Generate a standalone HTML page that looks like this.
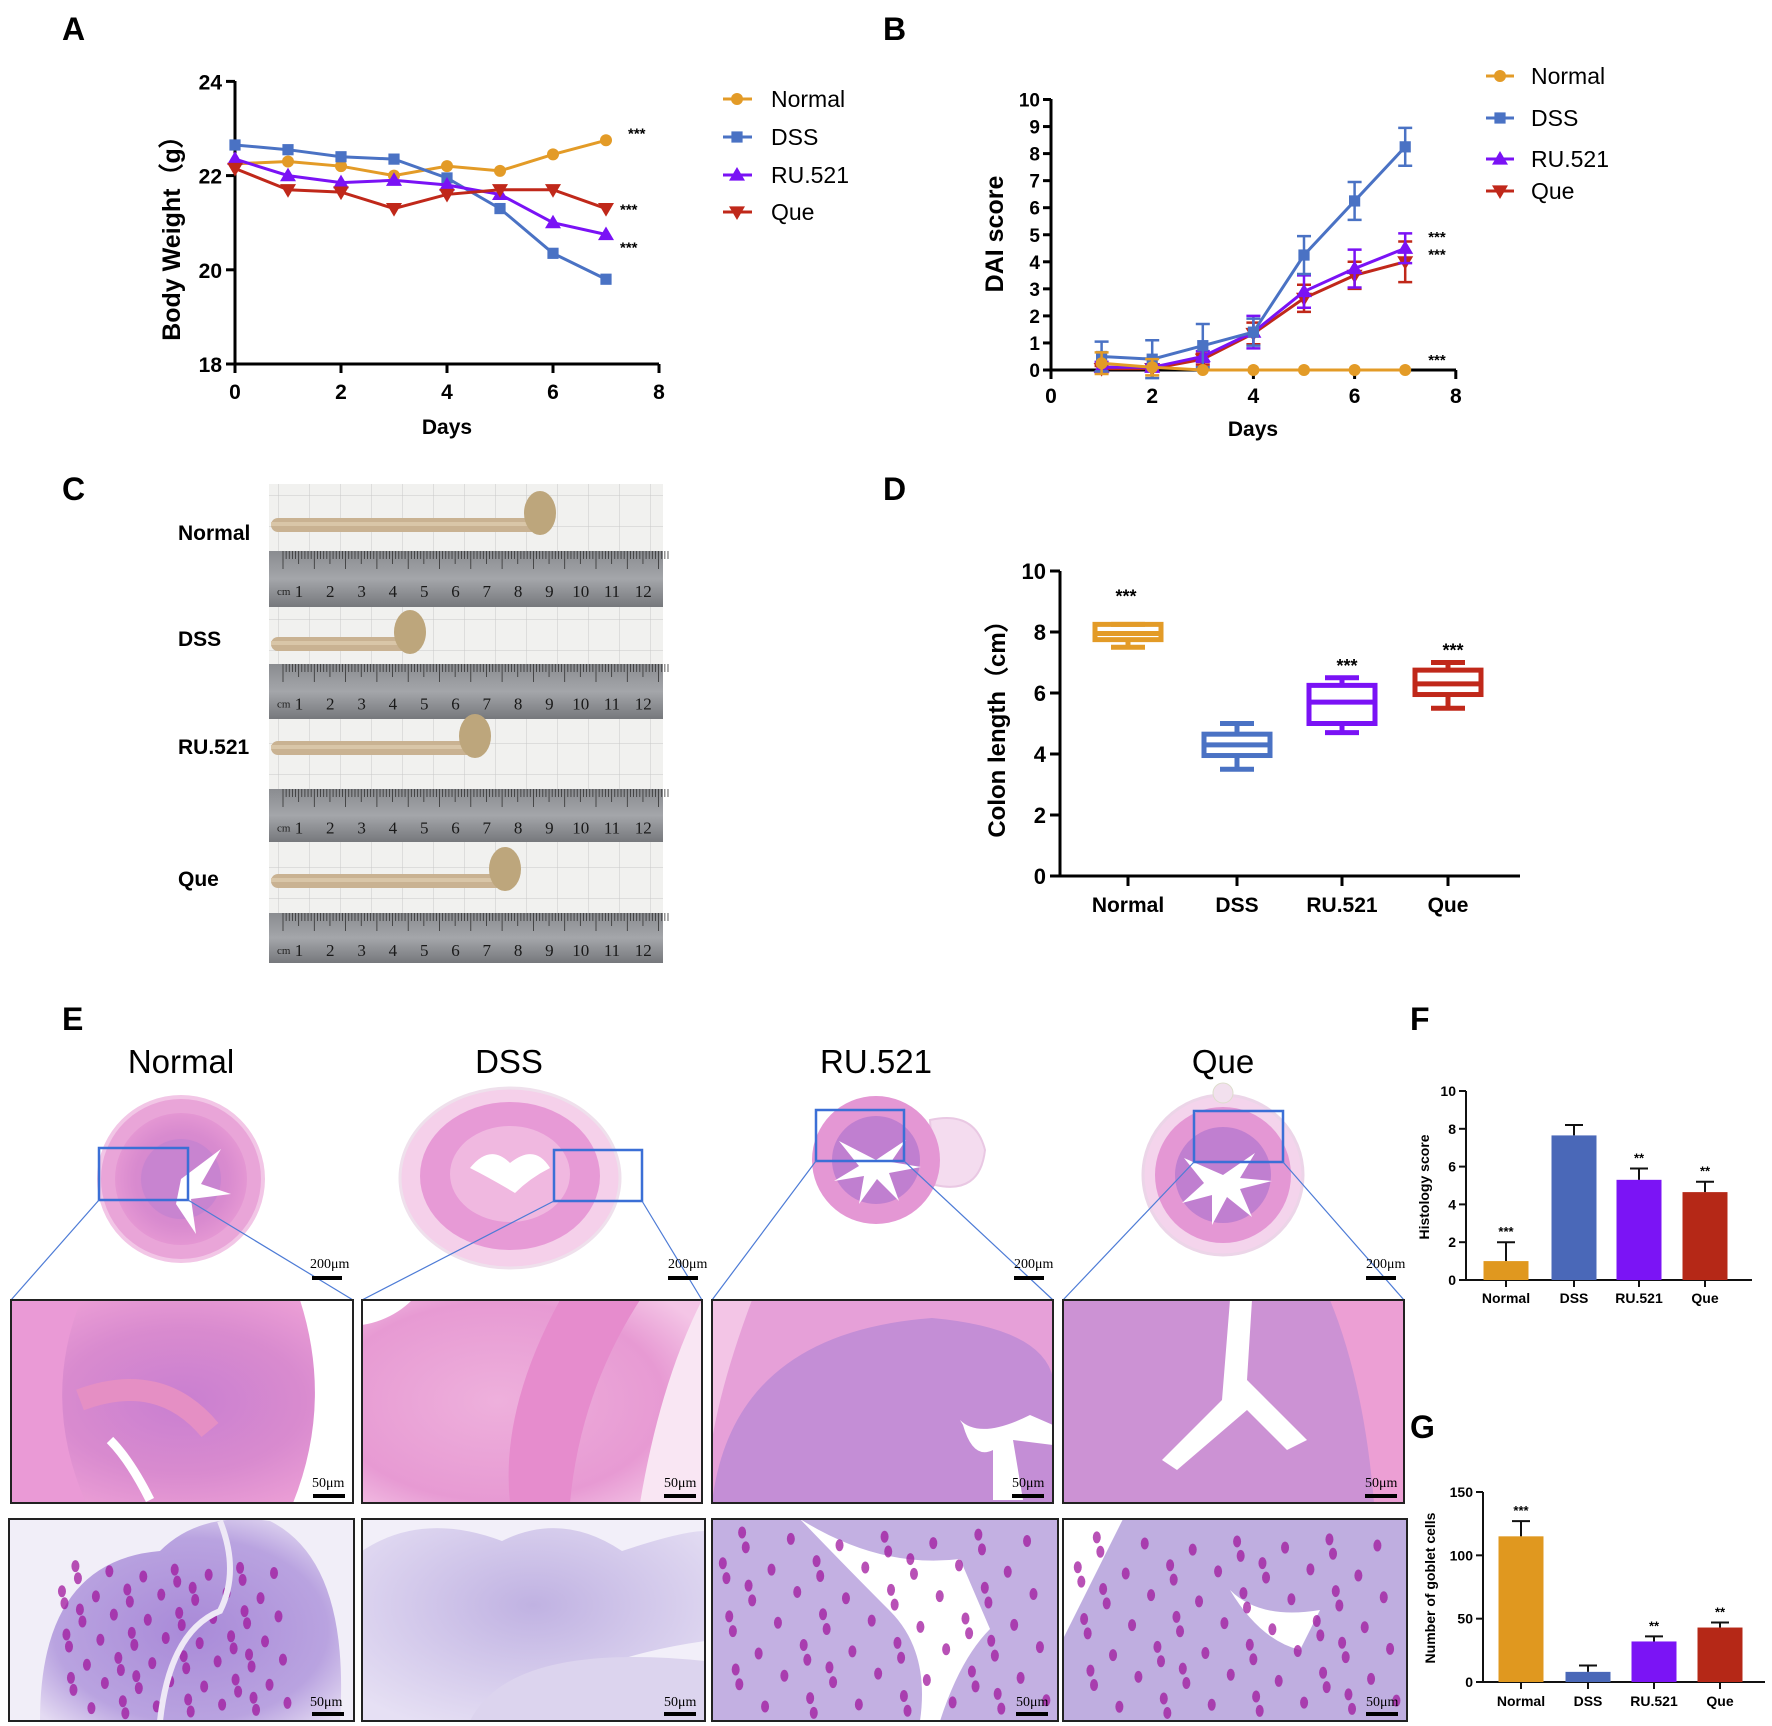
<!DOCTYPE html>
<html><head><meta charset="utf-8"><style>
html,body{margin:0;padding:0;background:#fff;}
svg{display:block;font-family:"Liberation Sans",Arial,sans-serif;}
.pl{font-weight:bold;font-size:32px;}
.tk{font-size:21px;font-weight:bold;}
.lg{font-size:23px;}
.ttl{font-weight:bold;font-size:23px;}
.st{font-size:15px;font-weight:bold;}
.sb{font-family:"Liberation Serif",serif;font-size:14px;}
</style></head><body>
<svg id="fig" width="1772" height="1726" viewBox="0 0 1772 1726" xmlns="http://www.w3.org/2000/svg">
<defs>
<radialGradient id="gPink" cx="50%" cy="50%" r="60%"><stop offset="0" stop-color="#c97fd0"/><stop offset="0.6" stop-color="#d98bcf"/><stop offset="1" stop-color="#ec9fd6"/></radialGradient>
<radialGradient id="gPink2" cx="40%" cy="50%" r="70%"><stop offset="0" stop-color="#eeb0dc"/><stop offset="0.7" stop-color="#e79ad3"/><stop offset="1" stop-color="#f4c5e6"/></radialGradient>
<radialGradient id="gLav" cx="50%" cy="55%" r="65%"><stop offset="0" stop-color="#a98ad8"/><stop offset="0.7" stop-color="#b9a3e0"/><stop offset="1" stop-color="#e4dbf2"/></radialGradient>
<radialGradient id="gLav2" cx="50%" cy="40%" r="70%"><stop offset="0" stop-color="#c0b2e2"/><stop offset="1" stop-color="#e6e0f4"/></radialGradient>
<linearGradient id="gRuler" x1="0" y1="0" x2="0" y2="1"><stop offset="0" stop-color="#8a8c90"/><stop offset="0.5" stop-color="#a4a6aa"/><stop offset="1" stop-color="#76787c"/></linearGradient>
<pattern id="grid" width="31" height="31" patternUnits="userSpaceOnUse"><rect width="31" height="31" fill="#f1f1ef"/><path d="M31 0V31M0 31H31" stroke="#c9c9c9" stroke-width="1"/></pattern>
</defs>

<text class="pl" x="62" y="40">A</text>
<text class="pl" x="883" y="40">B</text>
<text class="pl" x="62" y="500">C</text>
<text class="pl" x="883" y="500">D</text>
<text class="pl" x="62" y="1030">E</text>
<text class="pl" x="1410" y="1030">F</text>
<text class="pl" x="1410" y="1438">G</text>

<g id="pA"></g>
<g id="pB"></g>

<g>
<rect x="269" y="484" width="394" height="479" fill="url(#grid)"/>
<g id="rulers"></g>
<g id="colons"></g>
<text class="ttl" x="178" y="540" style="font-size:21px">Normal</text>
<text class="ttl" x="178" y="646" style="font-size:21px">DSS</text>
<text class="ttl" x="178" y="754" style="font-size:21px">RU.521</text>
<text class="ttl" x="178" y="886" style="font-size:21px">Que</text>
</g>

<g id="pD"></g>

<g id="pE">
<text x="181" y="1073" font-size="33" text-anchor="middle">Normal</text>
<text x="509" y="1073" font-size="33" text-anchor="middle">DSS</text>
<text x="876" y="1073" font-size="33" text-anchor="middle">RU.521</text>
<text x="1223" y="1073" font-size="33" text-anchor="middle">Que</text>

<g>
<circle cx="181" cy="1179" r="82" fill="#e9a5d8" stroke="#f2c6e6" stroke-width="4"/>
<circle cx="181" cy="1179" r="66" fill="url(#gPink)"/>
<circle cx="181" cy="1179" r="40" fill="#c884d0"/>
<path d="M181 1179 l40 -30 l-20 35 l30 10 l-40 5 l5 35 l-20 -30 z" fill="#fff"/>
</g>
<g>
<ellipse cx="510" cy="1178" rx="110" ry="90" fill="#f5d0ea" stroke="#efe0ec" stroke-width="3"/>
<ellipse cx="510" cy="1176" rx="90" ry="74" fill="#e79ad6"/>
<ellipse cx="510" cy="1174" rx="60" ry="48" fill="#f0b8e0"/>
<path d="M470 1168 q20 -25 40 -5 q25 -20 40 5 q-20 10 -35 25 q-25 -15 -45 -25z" fill="#fff"/>
</g>
<g>
<path d="M930 1120 q45 -10 55 30 q-5 45 -50 35 z" fill="#f4dcef" stroke="#e9c8e3" stroke-width="2"/>
<circle cx="876" cy="1160" r="64" fill="#e497d4"/>
<circle cx="876" cy="1160" r="44" fill="#c07fd0"/>
<path d="M876 1160 l30 -20 l-15 22 l30 5 l-32 6 l10 28 l-22 -22 l-18 25 l5 -28 l-30 5 l25 -15 l-20 -25 z" fill="#fff"/>
</g>
<g>
<circle cx="1223" cy="1175" r="80" fill="#f4d4ec" stroke="#ecd5e8" stroke-width="3"/>
<circle cx="1223" cy="1175" r="68" fill="#e497d4"/>
<circle cx="1223" cy="1175" r="48" fill="#c07fd0"/>
<path d="M1223 1175 l32 -22 l-15 25 l32 3 l-32 8 l12 28 l-25 -20 l-15 28 l0 -30 l-30 8 l22 -20 l-20 -25 z" fill="#fff"/>
<circle cx="1223" cy="1093" r="10" fill="#f2e0ee" stroke="#ddc" />
</g>

<g fill="none" stroke="#3b6fd6" stroke-width="2.5">
<rect x="99" y="1148" width="89" height="52"/>
<rect x="554" y="1150" width="88" height="51"/>
<rect x="816" y="1110" width="88" height="51"/>
<rect x="1194" y="1111" width="89" height="51"/>
</g>
<g stroke="#4d7bd6" stroke-width="1.2">
<line x1="99" y1="1200" x2="11" y2="1300"/><line x1="188" y1="1200" x2="353" y2="1300"/>
<line x1="554" y1="1201" x2="362" y2="1300"/><line x1="642" y1="1201" x2="702" y2="1300"/>
<line x1="816" y1="1161" x2="712" y2="1300"/><line x1="904" y1="1161" x2="1053" y2="1300"/>
<line x1="1194" y1="1162" x2="1063" y2="1300"/><line x1="1283" y1="1162" x2="1404" y2="1300"/>
</g>
<g class="sb">
<text x="310" y="1268">200μm</text><rect x="312" y="1276" width="30" height="4"/>
<text x="668" y="1268">200μm</text><rect x="668" y="1276" width="30" height="4"/>
<text x="1014" y="1268">200μm</text><rect x="1014" y="1276" width="30" height="4"/>
<text x="1366" y="1268">200μm</text><rect x="1366" y="1276" width="30" height="4"/>
</g>

<g>
<rect x="11" y="1300" width="342" height="203" fill="url(#gPink)"/>
<path d="M11 1300 h70 q-40 100 5 203 h-75z" fill="#ea9ad6"/>
<path d="M80 1400 q80 -30 130 30" stroke="#e58fc4" stroke-width="22" fill="none"/>
<path d="M300 1300 h53 v203 h-60 q40 -100 7 -203z" fill="#fff"/>
<path d="M110 1440 q20 20 40 60" stroke="#fff" stroke-width="9" fill="none"/>
</g>
<g>
<rect x="362" y="1300" width="340" height="203" fill="url(#gPink2)"/>
<path d="M560 1300 q-60 110 -50 203 h60 q10 -110 70 -203z" fill="#e68ccd"/>
<path d="M362 1300 h50 q-20 20 -50 25z" fill="#fff"/>
<path d="M640 1503 q20 -120 62 -203 v203z" fill="#f9e6f3"/>
</g>
<g>
<rect x="712" y="1300" width="341" height="203" fill="#e6a0d8"/>
<path d="M712 1503 q20 -170 220 -185 q110 10 121 60 v125z" fill="#c48ed6"/>
<path d="M960 1420 q20 20 70 -5 l23 10 v20 l-40 -5 l10 60 h-30 l0 -50 q-20 10 -30 -25z" fill="#fff"/>
<path d="M712 1300 h40 q-30 80 -40 140z" fill="#f3c5e6"/>
</g>
<g>
<rect x="1063" y="1300" width="341" height="203" fill="#cc92d4"/>
<path d="M1330 1300 h74 v203 h-30 q-10 -120 -44 -203z" fill="#ec9fd4"/>
<path d="M1230 1300 h22 l-5 80 l60 60 l-20 10 l-40 -40 l-70 60 l-15 -10 l60 -60 z" fill="#fff"/>
</g>
<g fill="none" stroke="#222" stroke-width="2">
<rect x="11" y="1300" width="342" height="203"/><rect x="362" y="1300" width="340" height="203"/>
<rect x="712" y="1300" width="341" height="203"/><rect x="1063" y="1300" width="341" height="203"/>
</g>

<g>
<rect x="9" y="1519" width="345" height="202" fill="#f1eef8"/>
<path d="M40 1721 q0 -160 120 -170 q40 -40 110 -30 q80 40 70 200z" fill="url(#gLav)"/>
<g id="dots1"></g>
<path d="M160 1721 q10 -90 60 -110 q20 -40 0 -90" stroke="#eee8f6" stroke-width="6" fill="none"/>
</g>
<g>
<rect x="362" y="1519" width="343" height="202" fill="#f2eff9"/>
<path d="M362 1721 v-170 q60 -40 140 -10 q60 -30 120 10 q60 -20 83 -20 v110 q-140 20 -180 80 z" fill="url(#gLav2)"/>
<path d="M470 1721 q40 -80 235 -60 v60z" fill="#dcd4ee"/>
</g>
<g>
<rect x="712" y="1519" width="346" height="202" fill="#c3b0e2"/>
<path d="M800 1519 q80 50 160 40 l30 70 q-30 30 -50 92 h-20 q10 -70 -30 -110 q-40 -40 -90 -92z" fill="#fff"/>
<g id="dots3"></g>
</g>
<g>
<rect x="1063" y="1519" width="344" height="202" fill="#bfaee0"/>
<path d="M1063 1519 h60 q-40 80 -60 120z M1230 1590 q30 30 90 20 l-20 40 q-40 -10 -70 -60z" fill="#fff"/>
<g id="dots4"></g>
</g>
<g fill="none" stroke="#222" stroke-width="2">
<rect x="9" y="1519" width="345" height="202"/><rect x="362" y="1519" width="343" height="202"/>
<rect x="712" y="1519" width="346" height="202"/><rect x="1063" y="1519" width="344" height="202"/>
</g>
<g class="sb">
<text x="312" y="1487">50μm</text><rect x="313" y="1494" width="32" height="4"/>
<text x="664" y="1487">50μm</text><rect x="664" y="1494" width="32" height="4"/>
<text x="1012" y="1487">50μm</text><rect x="1012" y="1494" width="32" height="4"/>
<text x="1365" y="1487">50μm</text><rect x="1365" y="1494" width="32" height="4"/>
<text x="310" y="1706">50μm</text><rect x="312" y="1712" width="32" height="4"/>
<text x="664" y="1706">50μm</text><rect x="664" y="1712" width="32" height="4"/>
<text x="1016" y="1706">50μm</text><rect x="1016" y="1712" width="32" height="4"/>
<text x="1366" y="1706">50μm</text><rect x="1366" y="1712" width="32" height="4"/>
</g>
</g>

<g id="pF"></g>
<g id="pG"></g>
</svg>

<script>
// ---------- data ----------
const groups = ["Normal","DSS","RU.521","Que"];
const colors = ["#E39B27","#4A72C4","#7A12F5","#C0281A"];
const daysA = [0,1,2,3,4,5,6,7];
const weightNormal = [22.25,22.3,22.2,22.0,22.2,22.1,22.45,22.75];
const weightDSS = [22.65,22.55,22.4,22.35,21.95,21.3,20.35,19.8];
const weightRU = [22.35,22.0,21.85,21.9,21.8,21.6,21.0,20.75];
const weightQue = [22.15,21.7,21.65,21.3,21.6,21.7,21.7,21.3];
const ticksA_x = [0,2,4,6,8];
const ticksA_y = [18,20,22,24];

const daysB = [1,2,3,4,5,6,7];
const daiNormal = [0.25,0.1,0,0,0,0,0];
const daiNormalErr = [0.4,0.3,0,0,0,0,0];
const daiDSS = [0.5,0.4,0.9,1.4,4.25,6.25,8.25];
const daiDSSErr = [0.55,0.7,0.8,0.5,0.7,0.7,0.7];
const daiRU = [0.1,0.1,0.5,1.4,2.9,3.75,4.5];
const daiRUErr = [0.2,0.1,0.2,0.6,0.6,0.7,0.55];
const daiQue = [0.05,0.05,0.4,1.35,2.65,3.5,4.0];
const daiQueErr = [0.1,0.1,0.2,0.4,0.5,0.5,0.75];
const ticksB_x = [0,2,4,6,8];
const ticksB_y = [0,1,2,3,4,5,6,7,8,9,10];

const boxMin = [7.5,3.5,4.7,5.5];
const boxQ1 = [7.75,3.95,5.0,5.95];
const boxMed = [7.95,4.3,5.7,6.3];
const boxQ3 = [8.25,4.65,6.25,6.75];
const boxMax = [8.25,5.0,6.5,7.0];
const boxStars = ["***","","***","***"];
const ticksD_y = [0,2,4,6,8,10];

const histMean = [1.0,7.65,5.3,4.65];
const histErr = [1.0,0.55,0.6,0.55];
const histStars = ["***","","**","**"];
const ticksF_y = [0,2,4,6,8,10];

const gobletMean = [115,8,32,43];
const gobletErr = [12,5,4,4];
const gobletStars = ["***","","**","**"];
const ticksG_y = [0,50,100,150];

const NS="http://www.w3.org/2000/svg";
function el(tag, attrs, parent){const e=document.createElementNS(NS,tag);for(const k in attrs)e.setAttribute(k,attrs[k]);parent.appendChild(e);return e;}
function txt(s, attrs, parent){const e=el("text",attrs,parent);e.textContent=s;return e;}

function marker(g, type, x, y, c, s){
  let m;
  if(type==="circle") m=el("circle",{cx:x,cy:y,r:s*0.75,fill:c},g);
  else if(type==="square") m=el("rect",{x:x-s*0.7,y:y-s*0.7,width:s*1.4,height:s*1.4,fill:c},g);
  else if(type==="up") m=el("path",{d:`M${x} ${y-s} L${x+s} ${y+s*0.7} L${x-s} ${y+s*0.7}Z`,fill:c},g);
  else m=el("path",{d:`M${x} ${y+s} L${x+s} ${y-s*0.7} L${x-s} ${y-s*0.7}Z`,fill:c},g);
  return m;
}
const mtypes=["circle","square","up","down"];

// ---------- Panel A ----------
(function(){
  const g=document.getElementById("pA");
  const x=d=>235+d*53, y=v=>364-(v-18)*47.1;
  el("line",{x1:235,y1:81,x2:235,y2:364,stroke:"#000","stroke-width":3},g);
  el("line",{x1:235,y1:364,x2:659,y2:364,stroke:"#000","stroke-width":3},g);
  ticksA_y.forEach(t=>{el("line",{x1:226,y1:y(t),x2:235,y2:y(t),stroke:"#000","stroke-width":3},g);
    const l=txt(t,{x:222,y:y(t)+8,"text-anchor":"end",class:"tk"},g);
    
    });
  ticksA_x.forEach(t=>{el("line",{x1:x(t),y1:364,x2:x(t),y2:373,stroke:"#000","stroke-width":3},g);
    const l=txt(t,{x:x(t),y:399,"text-anchor":"middle",class:"tk"},g);
    
    });
  const yt=txt("Body Weight（g）",{transform:"translate(180,232) rotate(-90)","text-anchor":"middle",class:"ttl",style:"font-size:25px"},g);
  
  
  const xt=txt("Days",{x:447,y:434,"text-anchor":"middle",class:"ttl",style:"font-size:21px"},g);
  
  
  const series=[weightNormal,weightDSS,weightRU,weightQue];
  series.forEach((s,i)=>{
    const sg=el("g",{},g);
    
    
    el("polyline",{points:s.map((v,j)=>x(daysA[j])+","+y(v)).join(" "),fill:"none",stroke:colors[i],"stroke-width":3},sg);
    s.forEach((v,j)=>{const m=marker(sg,mtypes[i],x(daysA[j]),y(v),colors[i],8);
      
      });
  });
  const sx=x(7)+14;
  txt("***",{x:sx+8,y:y(weightNormal[7])-2,class:"st"},g);
  txt("***",{x:sx,y:y(weightQue[7])+6,class:"st"},g);
  txt("***",{x:sx,y:y(weightRU[7])+18,class:"st"},g);
  const ly=[99,137,175,212];
  groups.forEach((n,i)=>{
    const lg=el("g",{},g);
    
    
    el("line",{x1:723,y1:ly[i],x2:752,y2:ly[i],stroke:colors[i],"stroke-width":3},lg);
    marker(lg,mtypes[i],737,ly[i],colors[i],8);
    txt(n,{x:771,y:ly[i]+8,class:"lg"},lg);
  });
})();

// ---------- Panel B ----------
(function(){
  const g=document.getElementById("pB");
  const x=d=>1051+d*50.6, y=v=>370-v*27.05;
  el("line",{x1:1051,y1:99,x2:1051,y2:370,stroke:"#000","stroke-width":3},g);
  el("line",{x1:1051,y1:370,x2:1456,y2:370,stroke:"#000","stroke-width":3},g);
  ticksB_y.forEach(t=>{el("line",{x1:1043,y1:y(t),x2:1051,y2:y(t),stroke:"#000","stroke-width":3},g);
    const l=txt(t,{x:1040,y:y(t)+7,"text-anchor":"end",class:"tk",style:"font-size:19px"},g);
    
    });
  ticksB_x.forEach(t=>{el("line",{x1:x(t),y1:370,x2:x(t),y2:379,stroke:"#000","stroke-width":3},g);
    const l=txt(t,{x:x(t),y:403,"text-anchor":"middle",class:"tk"},g);
    
    });
  const yt=txt("DAI score",{transform:"translate(1003,234) rotate(-90)","text-anchor":"middle",class:"ttl",style:"font-size:25px"},g);
  
  
  const xt=txt("Days",{x:1253,y:436,"text-anchor":"middle",class:"ttl",style:"font-size:21px"},g);
  
  
  const series=[daiNormal,daiDSS,daiRU,daiQue], errs=[daiNormalErr,daiDSSErr,daiRUErr,daiQueErr];
  [3,2,1,0].forEach(i=>{
    const s=series[i];
    const sg=el("g",{},g);
    
    
    el("polyline",{points:s.map((v,j)=>x(daysB[j])+","+y(v)).join(" "),fill:"none",stroke:colors[i],"stroke-width":3},sg);
    s.forEach((v,j)=>{
      const e=errs[i][j];
      if(e>0){const eb=el("path",{d:`M${x(daysB[j])} ${y(v-e)}V${y(v+e)} M${x(daysB[j])-7} ${y(v+e)}h14 M${x(daysB[j])-7} ${y(v-e)}h14`,stroke:colors[i],"stroke-width":2.5,fill:"none"},sg);
        
        }
      const m=marker(sg,mtypes[i],x(daysB[j]),y(v),colors[i],8);
      
      });
  });
  const sx=x(7)+23;
  txt("***",{x:sx,y:y(5.0)+7,class:"st"},g);
  txt("***",{x:sx,y:y(4.35)+7,class:"st"},g);
  txt("***",{x:sx,y:y(0)-5,class:"st"},g);
  const ly=[76,118,159,191];
  groups.forEach((n,i)=>{
    const lg=el("g",{},g);
    
    
    el("line",{x1:1486,y1:ly[i],x2:1514,y2:ly[i],stroke:colors[i],"stroke-width":3},lg);
    marker(lg,mtypes[i],1500,ly[i],colors[i],8);
    txt(n,{x:1531,y:ly[i]+8,class:"lg"},lg);
  });
})();

// ---------- Panel C ----------
(function(){
  const rg=document.getElementById("rulers");
  const rY=[551,664,789,913], rH=[56,55,53,50];
  rY.forEach((ry,k)=>{
    const r=el("rect",{x:269,y:ry,width:394,height:rH[k],fill:"url(#gRuler)"},rg);
    
    
    for(let i=0;i<124;i++){const xx=283+i*3.13;el("line",{x1:xx,y1:ry,x2:xx,y2:ry+(i%10==0?18:(i%5==0?13:8)),stroke:"#333","stroke-width":0.8},rg);}
    txt("cm",{x:277,y:ry+rH[k]/2+16,"font-size":11,fill:"#222","font-family":"Liberation Serif"},rg);
    for(let c=1;c<=12;c++){txt(c,{x:299+(c-1)*31.3,y:ry+rH[k]/2+18,"font-size":17,"text-anchor":"middle",fill:"#1a1a1a","font-family":"Liberation Serif"},rg);}
  });
  const cg=document.getElementById("colons");
  const cy=[525,644,748,881], cx2=[540,410,475,505];
  cy.forEach((y,k)=>{
    const p=el("rect",{x:271,y:y-7,width:cx2[k]-271,height:14,rx:7,fill:"#c9b292"},cg);
    
    
    el("rect",{x:271,y:y-3,width:cx2[k]-271,height:4,fill:"#d9c6a8"},cg);
    el("ellipse",{cx:cx2[k],cy:y-12,rx:16,ry:22,fill:"#bda67c"},cg);
  });
})();

// ---------- Panel D ----------
(function(){
  const g=document.getElementById("pD");
  const y=v=>876-v*30.5, cx=[1128,1237,1342,1448];
  el("line",{x1:1060,y1:571,x2:1060,y2:876,stroke:"#000","stroke-width":3},g);
  el("line",{x1:1060,y1:876,x2:1520,y2:876,stroke:"#000","stroke-width":3},g);
  ticksD_y.forEach(t=>{el("line",{x1:1050,y1:y(t),x2:1060,y2:y(t),stroke:"#000","stroke-width":3},g);
    const l=txt(t,{x:1046,y:y(t)+8,"text-anchor":"end",class:"tk",style:"font-size:22px"},g);
    
    });
  const yt=txt("Colon length（cm）",{transform:"translate(1005,723) rotate(-90)","text-anchor":"middle",class:"ttl",style:"font-size:24px"},g);
  
  
  groups.forEach((n,i)=>{
    el("line",{x1:cx[i],y1:876,x2:cx[i],y2:886,stroke:"#000","stroke-width":3},g);
    const l=txt(n,{x:cx[i],y:912,"text-anchor":"middle",class:"ttl",style:"font-size:21px"},g);
    
    
    const bg=el("g",{stroke:colors[i],"stroke-width":5,fill:"none"},g);
    
    
    const w=33;
    el("rect",{x:cx[i]-w,y:y(boxQ3[i]),width:2*w,height:y(boxQ1[i])-y(boxQ3[i])},bg);
    el("line",{x1:cx[i]-w,y1:y(boxMed[i]),x2:cx[i]+w,y2:y(boxMed[i])},bg);
    el("line",{x1:cx[i],y1:y(boxQ3[i]),x2:cx[i],y2:y(boxMax[i])},bg);
    el("line",{x1:cx[i],y1:y(boxQ1[i]),x2:cx[i],y2:y(boxMin[i])},bg);
    el("line",{x1:cx[i]-17,y1:y(boxMax[i]),x2:cx[i]+17,y2:y(boxMax[i])},bg);
    el("line",{x1:cx[i]-17,y1:y(boxMin[i]),x2:cx[i]+17,y2:y(boxMin[i])},bg);
    if(boxStars[i]){const s=txt(boxStars[i],{x:cx[i]+(i==0?-2:5),y:y(boxMax[i])-(i==0?22:6),"text-anchor":"middle",class:"st",style:"font-size:18px"},g);
      
      }
  });
})();

// ---------- bar charts F & G ----------
function barChart(gid, means, errs, stars, ticks, x0, y0, yTop, vmax, xEnd, cx, bw, title, tx, ty, labY, barCols){
  const g=document.getElementById(gid);
  const y=v=>y0-(v/vmax)*(y0-yTop);
  el("line",{x1:x0,y1:yTop,x2:x0,y2:y0,stroke:"#111","stroke-width":2},g);
  el("line",{x1:x0,y1:y0,x2:xEnd,y2:y0,stroke:"#111","stroke-width":2},g);
  ticks.forEach(t=>{el("line",{x1:x0-7,y1:y(t),x2:x0,y2:y(t),stroke:"#111","stroke-width":2},g);
    const l=txt(t,{x:x0-10,y:y(t)+5,"text-anchor":"end",class:"tk",style:"font-size:14px"},g);
    
    });
  const yt=txt(title,{transform:`translate(${tx},${ty}) rotate(-90)`,"text-anchor":"middle","font-size":14,"font-weight":"bold"},g);
  
  
  groups.forEach((n,i)=>{
    el("line",{x1:cx[i],y1:y0,x2:cx[i],y2:y0+7,stroke:"#111","stroke-width":2},g);
    const l=txt(n,{x:cx[i],y:labY,"text-anchor":"middle","font-size":14,"font-weight":"bold"},g);
    
    
    const eb=el("path",{d:`M${cx[i]} ${y(means[i])}V${y(means[i]+errs[i])} M${cx[i]-9} ${y(means[i]+errs[i])}h18`,stroke:"#111","stroke-width":2,fill:"none"},g);
    
    
    const b=el("rect",{x:cx[i]-bw/2,y:y(means[i]),width:bw,height:y0-y(means[i]),fill:barCols[i]},g);
    
    
    if(stars[i]){const s=txt(stars[i],{x:cx[i],y:y(means[i]+errs[i])-6,"text-anchor":"middle","font-size":13,"font-weight":"bold"},g);
      
      }
  });
}
const barCols=["#E0981F","#4A68B8","#7B14F5","#B52817"];
barChart("pF",histMean,histErr,histStars,ticksF_y,1466,1280,1091,10,1752,[1506,1574,1639,1705],45,"Histology score",1429,1187,1303,barCols);
barChart("pG",gobletMean,gobletErr,gobletStars,ticksG_y,1483,1682,1492,150,1765,[1521,1588,1654,1720],45,"Number of goblet cells",1435,1588,1706,barCols);

// ---------- histology dots (decorative) ----------
(function(){
  const specs=[["dots1",60,1560,290,1715],["dots3",720,1525,1050,1715],["dots4",1075,1530,1400,1715]];
  specs.forEach(s=>{
    const g=document.getElementById(s[0]);
    for(let a=1;a<=70;a++){
      const px=s[1]+((a*0.7548777)%1)*(s[3]-s[1]), py=s[2]+((a*0.5698403)%1)*(s[4]-s[2]);
      el("ellipse",{cx:px,cy:py,rx:4,ry:6,fill:"#a0179e","opacity":0.75},g);
    }
  });
})();
</script>
</body></html>
